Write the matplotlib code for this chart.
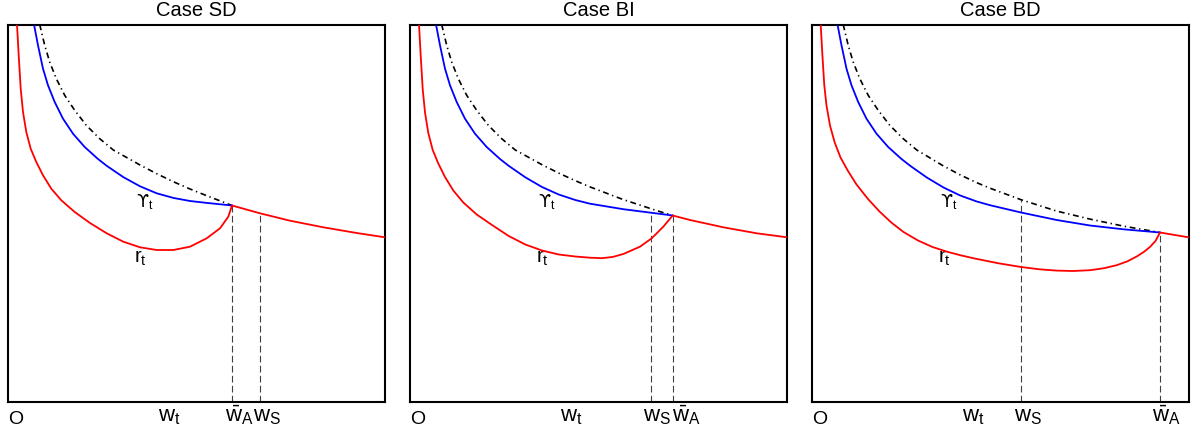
import numpy as np
import matplotlib.pyplot as plt

plt.rcParams['font.family'] = ['Liberation Sans', 'DejaVu Sans']
plt.rcParams['mathtext.fontset'] = 'custom'
plt.rcParams['mathtext.rm'] = 'Liberation Sans'
plt.rcParams['mathtext.it'] = 'Liberation Sans'
plt.rcParams['mathtext.sf'] = 'DejaVu Sans'
plt.rcParams['mathtext.default'] = 'rm'

# values, in units of the (square) box, 0..377
titles = ["Case SD", "Case BI", "Case BD"]

# Case SD
sd_red_x = [9, 10.7, 12.7, 15, 18.3, 22.7, 28.3, 35, 43.3, 53.3, 66.7, 82, 98.7, 115.3, 132, 148.7,
            165.3, 182, 198.7, 212, 220.3, 224, 252, 282, 315.3, 348.7, 377]
sd_red_y = [377, 346.2, 312.8, 289.5, 269.5, 252.8, 239.5, 226.2, 212.8, 201.2, 189.5, 178.5, 168.2, 159.8, 154.2, 151.5,
            151.5, 154.8, 163.2, 173.2, 184.8, 196, 188.2, 180.8, 174.2, 168.5, 164.2]
sd_blue_x = [26, 30, 35, 40, 46.7, 55, 65, 76.7, 90, 98.7, 115.3, 132, 148.7, 165.3, 182, 198.7, 224]
sd_blue_y = [377, 356.2, 332.8, 316.2, 299.5, 282.8, 267.8, 254.5, 242.5, 235.7, 224.4, 215.2, 208.2, 203.6, 200.5,
             198.6, 196]
sd_black_x = [31.7, 36.7, 41.7, 48.3, 56.7, 66.7, 78.3, 91.7, 105.3, 132, 148.7, 165.3, 182, 198.7, 224]
sd_black_y = [377, 356.2, 339.5, 322.8, 306.2, 291.2, 276.2, 262.8, 251.5, 236.5, 227.8, 219.8, 212.5, 205.8, 196]
sd_vlines_x = [224, 252]
sd_vlines_top = [196, 188.2]
sd_ticks_x = [158.5, 224.7, 252.7]
sd_ticks = [r'$w_t$', r'$\bar{w}_A$', r'$w_S$']

# Case BI
bi_red_x = [9, 10.7, 12.7, 15, 18.3, 22.7, 28.3, 35, 43.3, 53.3, 66.7, 82, 98.7, 115.3, 132, 148.7, 165.3,
            180, 192, 203, 213.3, 230, 241.7, 253.3, 262.7, 280, 313.3, 346.7, 377]
bi_red_y = [377, 346, 312.5, 289, 268.5, 251.5, 238, 224.5, 211, 199, 187, 176.5, 165.5, 157, 151, 147, 145,
            143.8, 143.3, 144.6, 147.5, 154.8, 163.2, 174.8, 186, 181.5, 174.2, 168.2, 164.2]
bi_blue_x = [26, 30, 35, 40, 46.7, 55, 65, 76.7, 90, 98.7, 115.3, 132, 148.7, 165.3, 180, 213.3, 240, 262.7]
bi_blue_y = [377, 356.2, 332.8, 316.2, 299.5, 282.8, 267.8, 254.5, 242.5, 235.7, 224.2, 214.5, 207, 201.5, 197.8,
             192.3, 188.9, 186]
bi_black_x = [31.7, 36.7, 41.7, 48.3, 56.7, 66.7, 78.3, 91.7, 105.3, 132, 148.7, 165.3, 180, 213.3, 246.7, 262.7]
bi_black_y = [377, 356.2, 339.5, 322.8, 306.2, 291.2, 276.2, 262.8, 251.5, 236.8, 228.4, 220.8, 214.6, 201.9, 190.9, 186]
bi_vlines_x = [241, 262.7]
bi_vlines_top = [188.8, 186]
bi_ticks_x = [158.5, 240.7, 270]
bi_ticks = [r'$w_t$', r'$w_S$', r'$\bar{w}_A$']

# Case BD
bd_red_x = [9.2, 10.8, 12.8, 15, 18.5, 23.2, 29, 36.5, 45, 56.5, 68, 79.8, 92, 106.5, 121, 136.5, 150, 163.2,
            186.5, 209.5, 228, 245.2, 261.8, 278.5, 292, 305.2, 316, 325.2, 332.5, 338.5, 344, 348.5, 377]
bd_red_y = [377, 348, 316, 296, 276, 259, 244, 230.5, 217, 202.5, 190, 179, 169.5, 161, 154.5, 149.5, 146, 143,
            138.3, 134.5, 132.2, 130.9, 130.5, 131.3, 133.2, 136.3, 140.2, 145, 149.7, 154.6, 160.5, 169, 164.2]
bd_blue_x = [26, 30, 35, 40, 46.7, 55, 65, 76.7, 90, 98.7, 115.3, 132, 148.7, 165.3, 178.5, 209.5, 245.2,
             278.5, 311.8, 348.5]
bd_blue_y = [377, 356.2, 332.8, 316.2, 299.5, 282.8, 267.8, 254.5, 242.5, 235.7, 224, 214, 206, 200, 196.3, 189,
             181.5, 176, 172.2, 169]
bd_black_x = [31.7, 36.7, 41.7, 48.3, 56.7, 66.7, 78.3, 91.7, 105.3, 132, 148.7, 165.3, 178.5, 209.5, 245.2,
              278.5, 311.8, 348.5]
bd_black_y = [377, 356.2, 339.5, 322.8, 306.2, 291.2, 276.2, 262.8, 251.5, 235.5, 226.6, 218.8, 213.3, 201.8, 190.4,
              182.4, 175.4, 169]
bd_vlines_x = [209.5, 348.5]
bd_vlines_top = [201.8, 169]
bd_ticks_x = [158.5, 211, 349]
bd_ticks = [r'$w_t$', r'$w_S$', r'$\bar{w}_A$']

panels = [
    (sd_red_x, sd_red_y, sd_blue_x, sd_blue_y, sd_black_x, sd_black_y,
     sd_vlines_x, sd_vlines_top, sd_ticks_x, sd_ticks),
    (bi_red_x, bi_red_y, bi_blue_x, bi_blue_y, bi_black_x, bi_black_y,
     bi_vlines_x, bi_vlines_top, bi_ticks_x, bi_ticks),
    (bd_red_x, bd_red_y, bd_blue_x, bd_blue_y, bd_black_x, bd_black_y,
     bd_vlines_x, bd_vlines_top, bd_ticks_x, bd_ticks),
]

W, H = 1192, 434
fig = plt.figure(figsize=(W / 100, H / 100), dpi=100)
lefts = [8, 410, 811.5]
box = 377
bottom = 434 - 401.5

for i, p in enumerate(panels):
    rx, ry, bx, by, kx, ky, vx, vtop, tx, tl = p
    ax = fig.add_axes([lefts[i] / W, bottom / H, box / W, box / H])
    ax.set_xlim(0, box)
    ax.set_ylim(0, box)
    ax.set_xticks([])
    ax.set_yticks([])
    for s in ax.spines.values():
        s.set_linewidth(1.5)

    for x, top in zip(vx, vtop):
        ax.plot([x, x], [0, top], color='0.25', lw=0.8, dashes=(6, 3), zorder=1)

    ax.plot(kx, ky, color='black', lw=1.2, dashes=(3.5, 2.2, 0.8, 2.2), zorder=2)
    ax.plot(bx, by, color='blue', lw=1.3, zorder=3)
    ax.plot(rx, ry, color='red', lw=1.3, zorder=4)

    # curve labels
    ax.text(128.5, 194.5, r'$\mathsf{ϒ}_t$', fontsize=12.5, ha='left', va='baseline')
    ax.text(126.5, 138.5, r'$r_t$', fontsize=14.5, ha='left', va='baseline')

    # axis labels
    ax.text(8, -22, 'O', fontsize=14, ha='center', va='baseline', clip_on=False)
    for x, lab in zip(tx, tl):
        ax.text(x - 8, -19.5, lab, fontsize=16, ha='left', va='baseline', clip_on=False)

    ax.set_title(titles[i], fontsize=14.5, pad=6)

fig.savefig("out.png", dpi=100)
